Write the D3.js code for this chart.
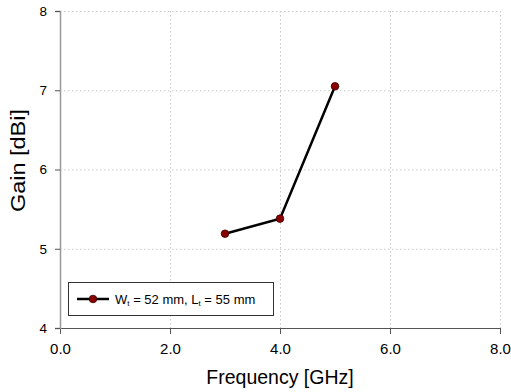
<style>
body {margin:0; background:#fff;}
#chart text {font-family:'Liberation Sans',Arial,sans-serif; fill:#000;}
.grid line {stroke:#c8c8c8; stroke-dasharray:1.5,2.5; stroke-width:1;}
</style>
<script src='https://d3js.org/d3.v7.min.js'></script>
<svg id='chart'></svg><script>
var freq=[3,4,5],
    gain=[5.19,5.38,7.05];
var xTicks=[0,2,4,6,8],
    yTicks=[4,5,6,7,8];
var seriesName=['W','t',' = 52 mm, L','t',' = 55 mm'];
var W=511,H=392,
    margin={top:11,right:11,bottom:64,left:60},
    width=W-margin.left-margin.right,
    height=H-margin.top-margin.bottom;
var xScale=d3.scaleLinear().domain([0,8]).range([0,width]),
    yScale=d3.scaleLinear().domain([4,8]).range([height,0]);
var svg0=d3.select('#chart').attr('width',W).attr('height',H);
var svg=svg0.append('g').attr('transform','translate('+margin.left+','+margin.top+')');
// grid
svg.append('g').attr('class','grid')
   .selectAll('line').data(xTicks.slice(1)).enter().append('line')
   .attr('x1',d=>xScale(d)+.5).attr('x2',d=>xScale(d)+.5)
   .attr('y1',0).attr('y2',height);
svg.append('g').attr('class','grid')
   .selectAll('line').data(yTicks.slice(1)).enter().append('line')
   .attr('y1',d=>yScale(d)+.5).attr('y2',d=>yScale(d)+.5)
   .attr('x1',0).attr('x2',width);
// axes
var xAx=svg.append('g').attr('transform','translate(0,'+height+')')
   .call(d3.axisBottom(xScale).tickValues(xTicks).tickFormat(d3.format('.1f')).tickSizeOuter(0).tickSize(6).tickPadding(9));
xAx.select('.domain').attr('stroke','#555');
xAx.selectAll('.tick line').attr('stroke','#555');
xAx.selectAll('text').style('font-size','15px');
var yAx=svg.append('g')
   .call(d3.axisLeft(yScale).tickValues(yTicks).tickFormat(d3.format('d')).tickSizeOuter(0).tickSize(5).tickPadding(8));
yAx.select('.domain').attr('stroke','#999').attr('stroke-width',1.5);
yAx.selectAll('.tick line').attr('stroke','#555');
yAx.selectAll('text').style('font-size','13.5px');
// axis titles
svg0.append('text').attr('x',margin.left+width/2).attr('y',384)
   .attr('text-anchor','middle').style('font-size','19.5px').text('Frequency [GHz]');
svg0.append('text').attr('transform','translate(25,160.5) rotate(-90)')
   .attr('text-anchor','middle').style('font-size','19.5px')
   .attr('textLength',103).attr('lengthAdjust','spacingAndGlyphs').text('Gain [dBi]');
// series
var pts=freq.map((f,i)=>({x:f,y:gain[i]}));
svg.append('path').datum(pts)
   .attr('fill','none').attr('stroke','#000').attr('stroke-width',2.5)
   .attr('d',d3.line().x(d=>xScale(d.x)).y(d=>yScale(d.y)));
svg.selectAll('circle.pt').data(pts).enter().append('circle').attr('class','pt')
   .attr('r',3.8).attr('cx',d=>xScale(d.x)).attr('cy',d=>yScale(d.y))
   .attr('fill','#8b0000').attr('stroke','#3a0000').attr('stroke-width',.8);
// legend
var lg=svg0.append('g').attr('transform','translate(68,282)');
lg.append('rect').attr('x',.5).attr('y',.5).attr('width',205).attr('height',33)
  .attr('fill','#fff').attr('stroke','#333').attr('stroke-width',1);
lg.append('line').attr('x1',9).attr('x2',41).attr('y1',17).attr('y2',17)
  .attr('stroke','#000').attr('stroke-width',2.5);
lg.append('circle').attr('cx',25).attr('cy',17).attr('r',3.8)
  .attr('fill','#8b0000').attr('stroke','#3a0000').attr('stroke-width',.8);
var lt=lg.append('text').attr('x',47).attr('y',22).style('font-size','13px');
seriesName.forEach((s,i)=>{
  var ts=lt.append('tspan').text(s);
  if(i==1||i==3) ts.style('font-size','8px').attr('dy',2);
  else if(i>0) ts.attr('dy',-2);
});
</script>
